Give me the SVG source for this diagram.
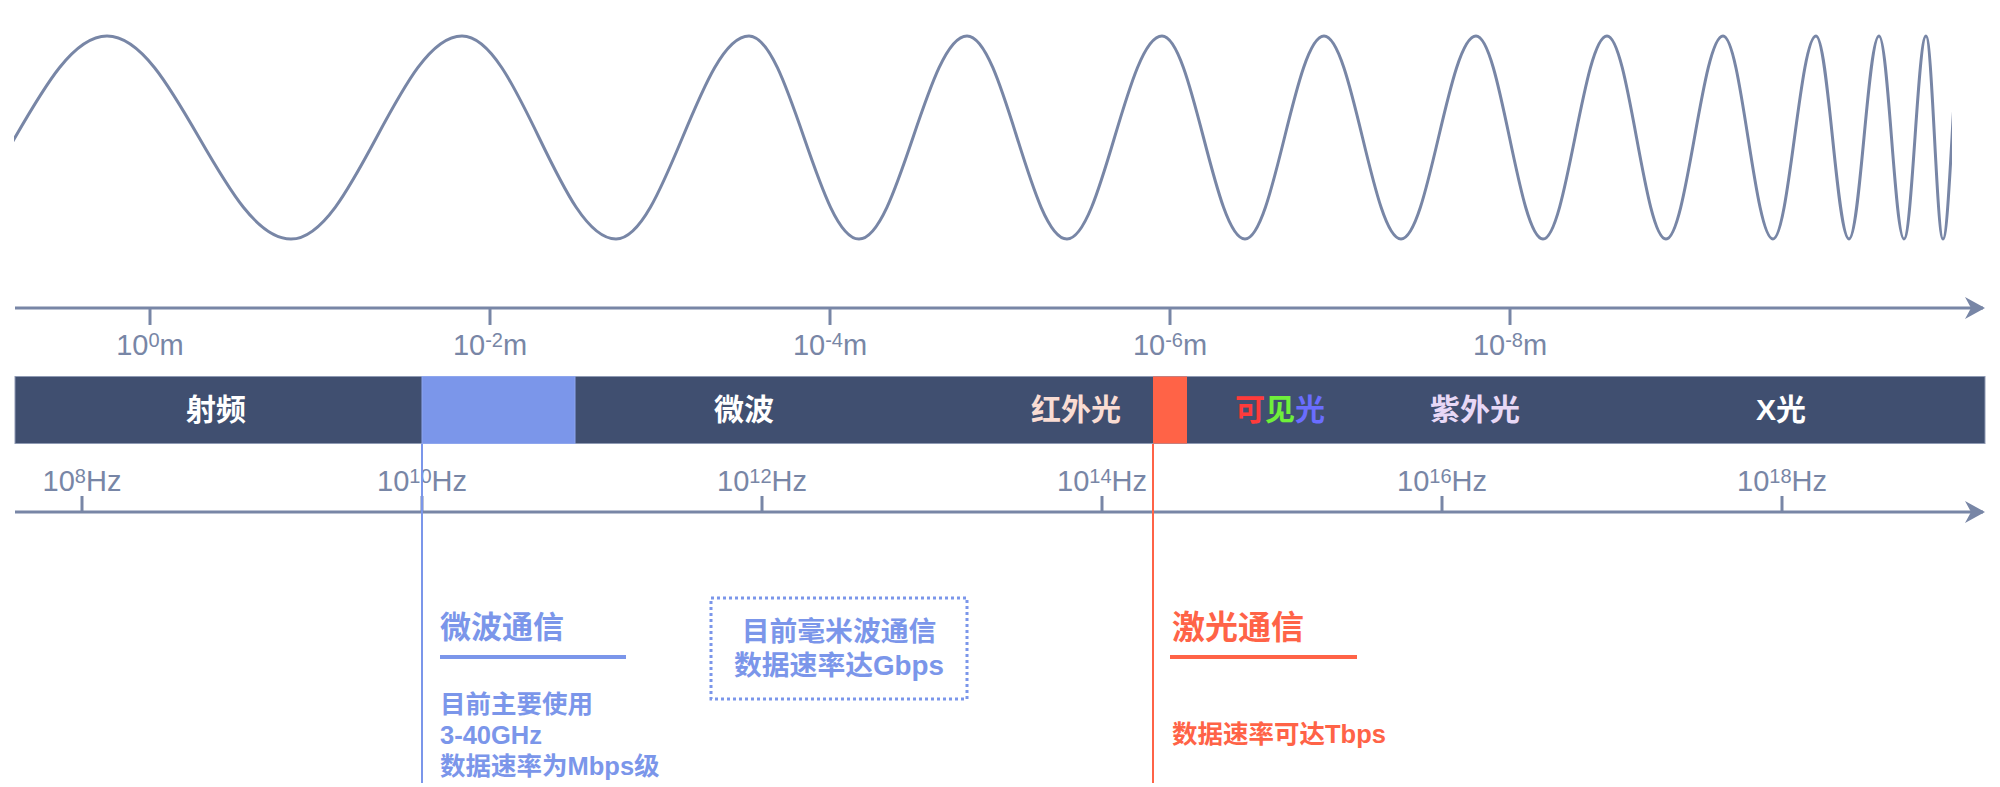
<svg xmlns="http://www.w3.org/2000/svg" width="2000" height="787" viewBox="0 0 2000 787">
<style>
.axis{stroke:#7886a6;stroke-width:3;fill:none}
.tick{stroke:#7886a6;stroke-width:3}
.lbl{font-family:'Liberation Sans','Noto Sans CJK SC',sans-serif;font-size:29px;fill:#7886a6;text-anchor:middle}
.sup{font-size:20px}
.band{font-family:'Liberation Sans','Noto Sans CJK SC',sans-serif;font-size:30px;font-weight:700;text-anchor:middle}
.cjk{font-family:'Liberation Sans','Noto Sans CJK SC',sans-serif;font-weight:700}
.blue{fill:#7b96ea}
.red{fill:#ff6347}
</style>
<defs>
<clipPath id="waveclip"><rect x="14" y="0" width="1938" height="300"/></clipPath>
<marker id="arr" viewBox="0 0 20 22" refX="18" refY="11" markerWidth="20" markerHeight="22" markerUnits="userSpaceOnUse" orient="auto">
<path d="M0,0 L20,11 L0,22 L6,11 Z" fill="#7886a6"/>
</marker>
</defs>
<rect width="2000" height="787" fill="#ffffff"/>

<g id="wave">
<path clip-path="url(#waveclip)" fill="none" stroke="#7886a6" stroke-width="3" d="M-77,239 C-10,239 40,36 107,36 C174,36 224,239 291,239 C353.2,239 399.8,36 462,36 C518.1,36 559.9,239 616,239 C664.4,239 700.6,36 749,36 C789,36 819,239 859,239 C898.3,239 927.7,36 967,36 C1003.4,36 1030.6,239 1067,239 C1101.6,239 1127.4,36 1162,36 C1192.2,36 1214.8,239 1245,239 C1273.8,239 1295.2,36 1324,36 C1352,36 1373,239 1401,239 C1428.3,239 1448.7,36 1476,36 C1500.4,36 1518.6,239 1543,239 C1566.3,239 1583.7,36 1607,36 C1628.5,36 1644.5,239 1666,239 C1686.7,239 1702.3,36 1723,36 C1741.2,36 1754.8,239 1773,239 C1788.7,239 1800.3,36 1816,36 C1828,36 1837,239 1849,239 C1859.9,239 1868.1,36 1879,36 C1888.1,36 1894.9,239 1904,239 C1912,239 1918,36 1926,36 C1932.2,36 1936.8,239 1943,239 C1949.6,239 1954.4,36 1961,36"/>
</g>

<g id="axis-wavelength">
<line class="axis" x1="15" y1="308" x2="1983" y2="308" marker-end="url(#arr)"/>
<line class="tick" x1="150" y1="308" x2="150" y2="325"/>
<line class="tick" x1="490" y1="308" x2="490" y2="325"/>
<line class="tick" x1="830" y1="308" x2="830" y2="325"/>
<line class="tick" x1="1170" y1="308" x2="1170" y2="325"/>
<line class="tick" x1="1510" y1="308" x2="1510" y2="325"/>
<text class="lbl" x="150" y="355">10<tspan class="sup" dy="-8">0</tspan><tspan dy="8">m</tspan></text>
<text class="lbl" x="490" y="355">10<tspan class="sup" dy="-8">-2</tspan><tspan dy="8">m</tspan></text>
<text class="lbl" x="830" y="355">10<tspan class="sup" dy="-8">-4</tspan><tspan dy="8">m</tspan></text>
<text class="lbl" x="1170" y="355">10<tspan class="sup" dy="-8">-6</tspan><tspan dy="8">m</tspan></text>
<text class="lbl" x="1510" y="355">10<tspan class="sup" dy="-8">-8</tspan><tspan dy="8">m</tspan></text>
</g>

<g id="axis-frequency">
<line class="axis" x1="15" y1="512" x2="1983" y2="512" marker-end="url(#arr)"/>
<line class="tick" x1="82" y1="512" x2="82" y2="496"/>
<line class="tick" x1="422" y1="512" x2="422" y2="496"/>
<line class="tick" x1="762" y1="512" x2="762" y2="496"/>
<line class="tick" x1="1102" y1="512" x2="1102" y2="496"/>
<line class="tick" x1="1442" y1="512" x2="1442" y2="496"/>
<line class="tick" x1="1782" y1="512" x2="1782" y2="496"/>
<text class="lbl" x="82" y="491">10<tspan class="sup" dy="-8">8</tspan><tspan dy="8">Hz</tspan></text>
<text class="lbl" x="422" y="491">10<tspan class="sup" dy="-8">10</tspan><tspan dy="8">Hz</tspan></text>
<text class="lbl" x="762" y="491">10<tspan class="sup" dy="-8">12</tspan><tspan dy="8">Hz</tspan></text>
<text class="lbl" x="1102" y="491">10<tspan class="sup" dy="-8">14</tspan><tspan dy="8">Hz</tspan></text>
<text class="lbl" x="1442" y="491">10<tspan class="sup" dy="-8">16</tspan><tspan dy="8">Hz</tspan></text>
<text class="lbl" x="1782" y="491">10<tspan class="sup" dy="-8">18</tspan><tspan dy="8">Hz</tspan></text>
</g>

<g id="spectrum-bar">
<rect x="15" y="376.5" width="1970" height="67" fill="#404f70" stroke="#8f9ab3" stroke-width="1"/>
<rect id="band-microwave-comm" x="422" y="376.5" width="153" height="67" fill="#7b96ea" stroke="#8ea6ee" stroke-width="1"/>
<rect id="band-laser" x="1153" y="376.5" width="34" height="67" fill="#ff6347"/>
<text class="band" x="216" y="420" fill="#ffffff">射频</text>
<text class="band" x="744" y="420" fill="#ffffff">微波</text>
<text class="band" x="1076" y="420" fill="#f9dcd3">红外光</text>
<text class="band" x="1280" y="420"><tspan fill="#ff3b3b">可</tspan><tspan fill="#6ff03a">见</tspan><tspan fill="#6a6dff">光</tspan></text>
<text class="band" x="1475" y="420" fill="#e8d8f6">紫外光</text>
<text class="band" x="1781" y="420" fill="#ffffff">X光</text>
</g>

<g id="connectors">
<line x1="422" y1="444" x2="422" y2="783" stroke="#7b96ea" stroke-width="2"/>
<line x1="1153" y1="444" x2="1153" y2="783" stroke="#ff6347" stroke-width="2"/>
</g>

<g id="microwave-comm">
<text class="cjk blue" x="440" y="638" font-size="31">微波通信</text>
<line x1="440" y1="657" x2="626" y2="657" stroke="#7b96ea" stroke-width="4"/>
<text class="cjk blue" font-size="25.5"><tspan x="440" y="713">目前主要使用</tspan><tspan x="440" y="744">3-40GHz</tspan><tspan x="440" y="775">数据速率为Mbps级</tspan></text>
</g>

<g id="mmwave-box">
<rect x="711" y="598" width="256" height="101" fill="none" stroke="#7b96ea" stroke-width="3" stroke-dasharray="3 3"/>
<text class="cjk blue" font-size="27.8" text-anchor="middle"><tspan x="839" y="641">目前毫米波通信</tspan><tspan x="839" y="675">数据速率达Gbps</tspan></text>
</g>

<g id="laser-comm">
<text class="cjk red" x="1172" y="639" font-size="33">激光通信</text>
<line x1="1170" y1="657" x2="1357" y2="657" stroke="#ff6347" stroke-width="4"/>
<text class="cjk red" x="1172" y="743" font-size="25.5">数据速率可达Tbps</text>
</g>
</svg>
